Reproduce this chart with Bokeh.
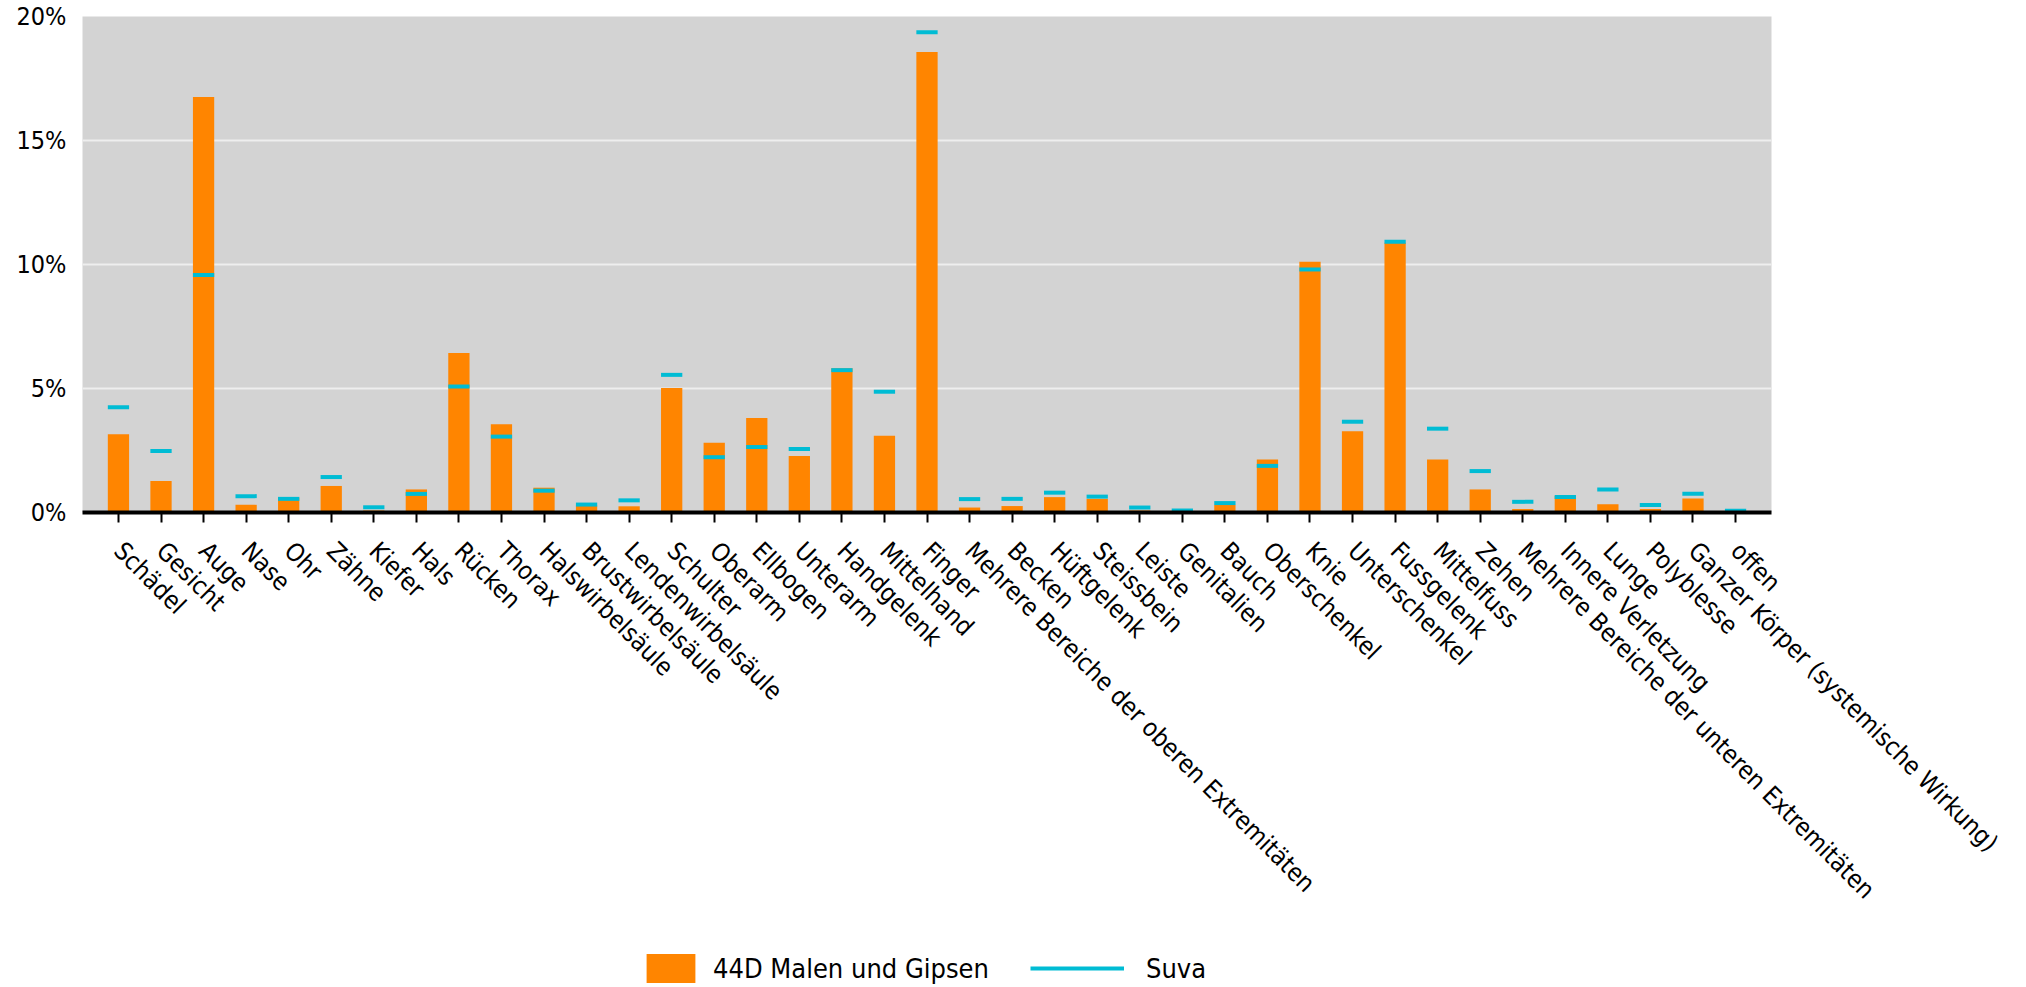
import math
from bokeh.plotting import figure
from bokeh.layouts import column
from bokeh.models import (ColumnDataSource, FactorRange, Range1d, FixedTicker,
                          PrintfTickFormatter, Legend, LegendItem)
from bokeh.transform import dodge
from bokeh.embed import file_html
from bokeh.resources import INLINE

categories = ["Schädel", "Gesicht", "Auge", "Nase", "Ohr", "Zähne", "Kiefer", "Hals",
              "Rücken", "Thorax", "Halswirbelsäule", "Brustwirbelsäule",
              "Lendenwirbelsäule", "Schulter", "Oberarm", "Ellbogen", "Unterarm",
              "Handgelenk", "Mittelhand", "Finger",
              "Mehrere Bereiche der oberen Extremitäten", "Becken", "Hüftgelenk",
              "Steissbein", "Leiste", "Genitalien", "Bauch", "Oberschenkel", "Knie",
              "Unterschenkel", "Fussgelenk", "Mittelfuss", "Zehen",
              "Mehrere Bereiche der unteren Extremitäten", "Innere Verletzung",
              "Lunge", "Polyblesse", "Ganzer Körper (systemische Wirkung)", "offen"]

malen = [3.16, 1.27, 16.75, 0.31, 0.60, 1.07, 0.08, 0.93, 6.43, 3.56, 1.00, 0.28,
         0.25, 5.02, 2.81, 3.81, 2.28, 5.82, 3.09, 18.57, 0.20, 0.26, 0.62, 0.55,
         0.08, 0.00, 0.31, 2.14, 10.11, 3.28, 10.88, 2.14, 0.93, 0.14, 0.67, 0.33,
         0.14, 0.56, 0.00]

suva = [4.24, 2.48, 9.58, 0.66, 0.55, 1.43, 0.21, 0.75, 5.08, 3.06, 0.88, 0.32,
        0.49, 5.55, 2.23, 2.64, 2.56, 5.74, 4.87, 19.36, 0.54, 0.55, 0.80, 0.64,
        0.20, 0.08, 0.38, 1.88, 9.80, 3.66, 10.92, 3.38, 1.67, 0.43, 0.62, 0.93,
        0.30, 0.76, 0.07]

y_ticks = [0, 5, 10, 15, 20]
series_names = ["44D Malen und Gipsen", "Suva"]

FONT = "DejaVu Sans Condensed"
ORANGE = "#FF8500"
CYAN = "#00BCD4"
W = 2026
NAN = float("nan")

source = ColumnDataSource(dict(cat=categories, malen=malen, suva=suva))

# ---- main chart ----
p = figure(x_range=FactorRange(factors=categories, range_padding=0.345,
                               range_padding_units="absolute"),
           y_range=Range1d(0, 20), width=W, height=940,
           output_backend="svg", toolbar_location=None,
           min_border_left=82, min_border_right=W - 1771, min_border_top=16,
           min_border_bottom=428)
p.background_fill_color = "#D3D3D3"
p.border_fill_color = "white"
p.outline_line_color = None
p.xgrid.grid_line_color = None
p.ygrid.grid_line_color = "#EEEEEE"
p.ygrid.grid_line_width = 2
p.ygrid.ticker = FixedTicker(ticks=y_ticks)

p.vbar(x="cat", top="malen", width=0.5, source=source,
       fill_color=ORANGE, line_color=None)
p.segment(x0=dodge("cat", -0.25, range=p.x_range),
          x1=dodge("cat", 0.25, range=p.x_range),
          y0="suva", y1="suva", source=source,
          line_color=CYAN, line_width=4)

p.xaxis.major_label_orientation = -math.pi / 4
p.xaxis.axis_line_width = 4
p.xaxis.axis_line_color = "black"
p.xaxis.major_tick_out = 10
p.xaxis.major_tick_in = 0
p.xaxis.major_tick_line_width = 2
p.xaxis.major_tick_line_color = "black"
p.xaxis.major_label_text_font = FONT
p.xaxis.major_label_text_font_size = "25px"
p.xaxis.major_label_text_color = "black"
p.xaxis.major_label_standoff = 24

p.yaxis.ticker = FixedTicker(ticks=y_ticks)
p.yaxis.formatter = PrintfTickFormatter(format="%d%%")
p.yaxis.axis_line_color = None
p.yaxis.major_tick_line_color = None
p.yaxis.minor_tick_line_color = None
p.yaxis.major_tick_out = 0
p.yaxis.major_tick_in = 0
p.yaxis.major_label_standoff = 16
p.yaxis.major_label_text_font = FONT
p.yaxis.major_label_text_font_size = "25px"
p.yaxis.major_label_text_color = "black"

# ---- legend strip (its frame is aligned with the chart frame, left = 82) ----
lg = figure(width=W, height=47, output_backend="svg", toolbar_location=None,
            x_range=Range1d(0, 1), y_range=Range1d(0, 1),
            min_border=0, min_border_left=0, min_border_right=0,
            min_border_top=0, min_border_bottom=0)
lg.axis.visible = False
lg.grid.visible = False
lg.outline_line_color = None
lg.background_fill_color = "white"
lg.border_fill_color = "white"
# proxy renderers with no drawable data: only their legend glyphs show
bar_proxy = lg.vbar(x=[NAN], top=[NAN], width=0.5, fill_color=ORANGE, line_color=None)
line_proxy = lg.segment(x0=[NAN], x1=[NAN], y0=[NAN], y1=[NAN],
                        line_color=CYAN, line_width=4)

common = dict(orientation="horizontal", padding=0, margin=0, border_line_color=None,
              background_fill_alpha=0, label_text_font=FONT,
              label_text_font_size="27px", label_text_color="black",
              glyph_height=36)
leg1 = Legend(items=[LegendItem(label=series_names[0], renderers=[bar_proxy])],
              location=(558, 1), glyph_width=61, label_standoff=12, **common)
leg2 = Legend(items=[LegendItem(label=series_names[1], renderers=[line_proxy])],
              location=(948, 1), glyph_width=94, label_standoff=22, **common)
lg.add_layout(leg1)
lg.add_layout(leg2)

layout = column(p, lg, spacing=0)
open("out.html", "w").write(file_html(layout, INLINE))
